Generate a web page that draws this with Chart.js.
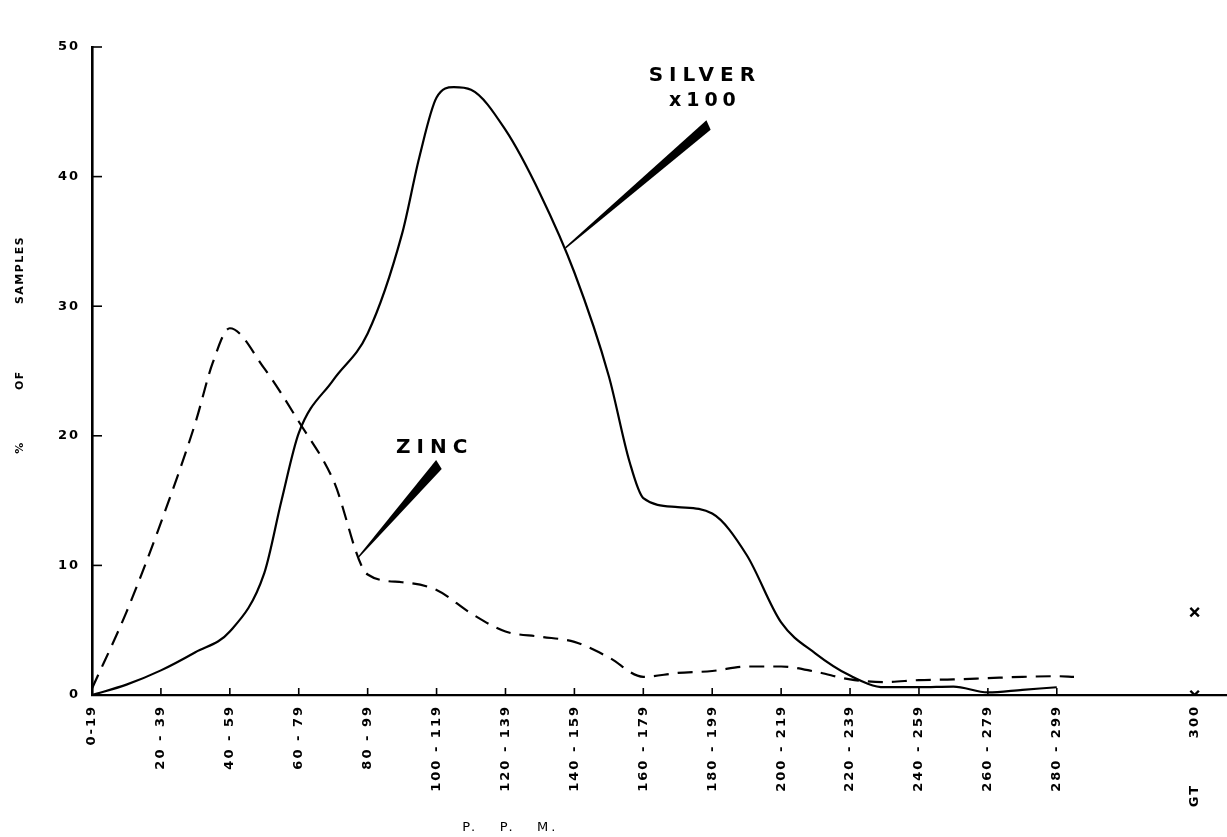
<!DOCTYPE html>
<html><head><meta charset="utf-8">
<script src="https://cdn.jsdelivr.net/npm/chart.js@4.4.0/dist/chart.umd.min.js"></script>
<style>html,body{margin:0;padding:0;background:#fff}#wrap{width:1227px;height:837px}</style>
</head><body><div id="wrap"><canvas id="c" width="1227" height="837"></canvas></div>
<script>
// Categories (P.P.M. classes) and their positions on the x axis
const categories = ['0-19','20 - 39','40 - 59','60 - 79','80 - 99','100 - 119','120 - 139','140 - 159','160 - 179','180 - 199','200 - 219','220 - 239','240 - 259','260 - 279','280 - 299','GT       300'];
const categoryPositions = [0,1,2,3,4,5,6,7,8,9,10,11,12,13,14,16];
const yTicks = [0,10,20,30,40,50];

// Silver x100 (solid curve)
const silverX = [0,0.5,1,1.5,2,2.5,2.75,3,3.5,4,4.5,4.75,5,5.25,5.5,6,6.5,7,7.5,7.8,8,8.5,9,9.5,10,10.5,11,11.5,12,12.5,13,13.5,14];
const silverY = [0,0.8,1.9,3.3,4.9,9.4,15.0,20.2,24.3,27.9,35.6,41.5,46.1,46.9,46.7,43.6,38.7,32.6,24.6,18.0,15.2,14.5,14.0,10.8,5.6,3.2,1.5,0.6,0.6,0.65,0.2,0.4,0.6];

// Zinc (dashed curve)
const zincX = [0,0.5,1,1.5,1.75,2,2.5,3,3.5,4,4.5,5,5.5,6,6.5,7,7.5,8,8.5,9,9.5,10,10.5,11,11.5,12,12.5,13,13.5,14,14.25];
const zincY = [0.5,6.4,13.3,21.0,25.6,28.3,25.2,21.1,16.6,9.3,8.7,8.1,6.3,4.9,4.5,4.1,2.9,1.4,1.7,1.85,2.2,2.2,1.8,1.2,1.0,1.15,1.2,1.3,1.4,1.45,1.4];

// "GT 300" class values (marked with crosses)
const gtZinc = 6.4;
const gtSilver = 0;

const toPts = (xs, ys) => xs.map((x, i) => ({x, y: ys[i]}));
const FONT = 'DejaVu Sans';

const spacingPlugin = {
  id: 'spacing',
  beforeUpdate(c) { c.ctx.letterSpacing = '2px'; },
  beforeDraw(c) { c.ctx.letterSpacing = '2px'; }
};

const decorPlugin = {
  id: 'decor',
  afterDraw(c) {
    const ctx = c.ctx, xs = c.scales.x, ys = c.scales.y, a = c.chartArea;
    ctx.save();
    ctx.strokeStyle = '#000'; ctx.fillStyle = '#000'; ctx.lineWidth = 1.6;
    // inward tick marks
    xs.ticks.forEach(t => {
      if (t.value > 14) return;
      const p = xs.getPixelForValue(t.value);
      ctx.beginPath(); ctx.moveTo(p, a.bottom); ctx.lineTo(p, a.bottom - 7); ctx.stroke();
    });
    ys.ticks.forEach(t => {
      if (t.value <= 0) return;
      const p = ys.getPixelForValue(t.value);
      ctx.beginPath(); ctx.moveTo(a.left, p); ctx.lineTo(a.left + 10, p); ctx.stroke();
    });
    // wedge pointers
    const wedge = (x1, y1, x2, y2, w) => {
      const p1x = xs.getPixelForValue(x1), p1y = ys.getPixelForValue(y1);
      const p2x = xs.getPixelForValue(x2), p2y = ys.getPixelForValue(y2);
      const dx = p2x - p1x, dy = p2y - p1y, L = Math.hypot(dx, dy);
      const nx = -dy / L, ny = dx / L;
      ctx.beginPath();
      ctx.moveTo(p1x + nx * 0.7, p1y + ny * 0.7);
      ctx.lineTo(p2x + nx * w / 2, p2y + ny * w / 2);
      ctx.lineTo(p2x - nx * w / 2 + dx / L * 3, p2y - ny * w / 2 + dy / L * 3);
      ctx.lineTo(p1x - nx * 0.7, p1y - ny * 0.7);
      ctx.closePath(); ctx.fill();
    };
    wedge(6.87, 34.5, 8.93, 43.9, 10);
    wedge(3.86, 10.6, 5.02, 17.7, 10);
    // labels
    ctx.textAlign = 'center'; ctx.textBaseline = 'middle';
    ctx.font = 'bold 20px ' + FONT; ctx.letterSpacing = '6px';
    ctx.fillText('SILVER', xs.getPixelForValue(8.85) + 3, ys.getPixelForValue(47.8));
    ctx.font = 'bold 19px ' + FONT; ctx.letterSpacing = '5px';
    ctx.fillText('x100', xs.getPixelForValue(8.85) + 3, ys.getPixelForValue(45.8));
    ctx.font = 'bold 20px ' + FONT; ctx.letterSpacing = '6px';
    ctx.fillText('ZINC', xs.getPixelForValue(4.93) + 3, ys.getPixelForValue(19.1));
    // axis titles
    ctx.font = '13px ' + FONT; ctx.letterSpacing = '3px';
    ctx.fillText('P.   P.   M.', xs.getPixelForValue(6.07), 828);
    ctx.font = 'bold 11px ' + FONT; ctx.letterSpacing = '1.5px';
    const yTitle = [['%', 19.1], ['OF', 24.3], ['SAMPLES', 32.8]];
    yTitle.forEach(([s, v]) => {
      ctx.save();
      ctx.translate(20, ys.getPixelForValue(v));
      ctx.rotate(-Math.PI / 2);
      ctx.fillText(s, 0, 0);
      ctx.restore();
    });
    ctx.restore();
  }
};

new Chart(document.getElementById('c'), {
  type: 'line',
  data: {
    datasets: [
      { label: 'Silver x100', data: toPts(silverX, silverY), borderColor: '#000', borderWidth: 2.2,
        pointRadius: 0, cubicInterpolationMode: 'monotone', fill: false },
      { label: 'Zinc', data: toPts(zincX, zincY), borderColor: '#000', borderWidth: 2.2,
        borderDash: [15, 9], pointRadius: 0, cubicInterpolationMode: 'monotone', fill: false },
      { label: 'GT 300', data: [{x: categoryPositions[15], y: gtZinc}, {x: categoryPositions[15], y: gtSilver}],
        showLine: false, pointStyle: 'crossRot', pointRadius: 6, pointBorderWidth: 2.4,
        pointBorderColor: '#000', borderColor: '#000' }
    ]
  },
  options: {
    responsive: false,
    animation: false,
    devicePixelRatio: 1,
    layout: { autoPadding: false, padding: { top: 47, right: 0, left: 0, bottom: 0 } },
    plugins: { legend: { display: false }, tooltip: { enabled: false } },
    scales: {
      x: {
        type: 'linear', min: 0, max: 16.47,
        afterBuildTicks: s => { s.ticks = categoryPositions.map(v => ({ value: v })); },
        afterFit: s => { s.height = 142; s.paddingRight = 0; s.paddingLeft = 0; },
        grid: { display: false, drawTicks: false },
        border: { display: true, color: '#000', width: 2.2 },
        ticks: {
          autoSkip: false, minRotation: 90, maxRotation: 90, padding: 10,
          color: '#000', font: { family: FONT, size: 13, weight: 'bold' },
          callback: v => { const i = categoryPositions.indexOf(v); return i >= 0 ? categories[i] : ''; }
        }
      },
      y: {
        min: 0, max: 50,
        afterBuildTicks: s => { s.ticks = yTicks.map(v => ({ value: v })); },
        afterFit: s => { s.width = 92; },
        grid: { display: false, drawTicks: false },
        border: { display: true, color: '#000', width: 2.6 },
        ticks: { padding: 12, color: '#000', font: { family: FONT, size: 13, weight: 'bold' } }
      }
    }
  },
  plugins: [spacingPlugin, decorPlugin]
});
</script>
</body></html>
